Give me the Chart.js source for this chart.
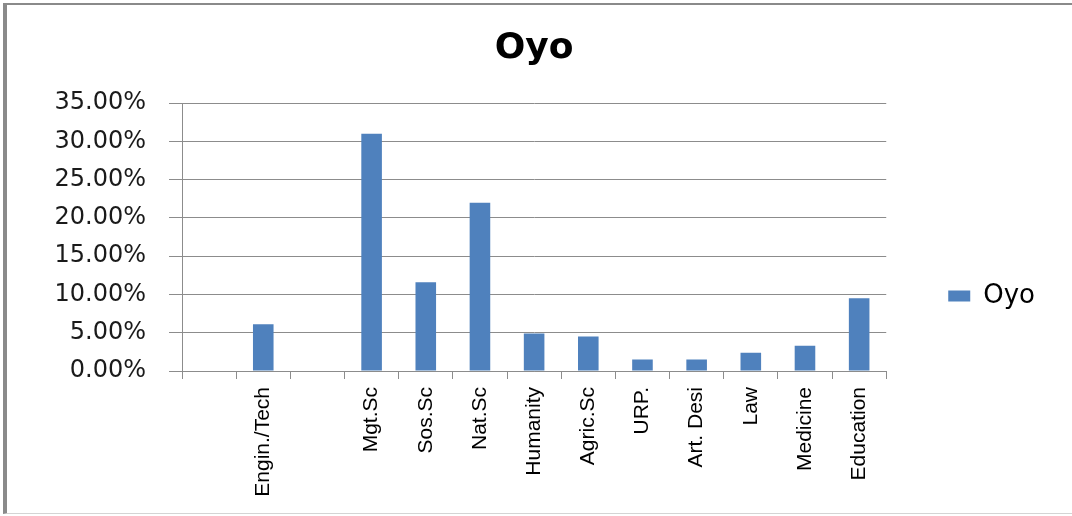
<!DOCTYPE html>
<html>
<head>
<meta charset="utf-8">
<script src="https://cdn.jsdelivr.net/npm/chart.js@4/dist/chart.umd.min.js"></script>
<style>
  html, body { margin: 0; padding: 0; background: #ffffff; }
  #wrap { position: relative; width: 1072px; height: 516px; overflow: hidden; }
  #frame {
    position: absolute; left: 3px; top: 3px; width: 1069px; height: 511px;
    border-left: 4px solid #8a8a8a; border-top: 2px solid #8a8a8a; border-bottom: 1px solid #d4d4d4;
    box-sizing: border-box; pointer-events: none;
  }
  canvas { position: absolute; left: 0; top: 0; }
</style>
</head>
<body>
<div id="wrap">
  <div id="frame"></div>
  <canvas id="c" width="1072" height="516"></canvas>
</div>
<script>
const chartTitle = "Oyo";
const seriesName = "Oyo";
const categories = ["", "Engin./Tech", "", "Mgt.Sc", "Sos.Sc", "Nat.Sc", "Humanity", "Agric.Sc", "URP.", "Art. Desi", "Law", "Medicine", "Education"];
const oyoValues = [null, 0.061, null, 0.310, 0.116, 0.220, 0.049, 0.045, 0.015, 0.015, 0.024, 0.033, 0.095];
const yTickMin = 0;
const yTickMax = 0.35;
const yTickStep = 0.05;

const gridColor = "#8c8c8c";

new Chart(document.getElementById("c"), {
  type: "bar",
  data: {
    labels: categories,
    datasets: [{
      label: seriesName,
      data: oyoValues,
      backgroundColor: "#4f81bd",
      borderWidth: 0,
      barPercentage: 0.38,
      categoryPercentage: 1.0
    }]
  },
  options: {
    responsive: false,
    animation: false,
    devicePixelRatio: 1,
    layout: { padding: { left: 0, right: 27, top: 0, bottom: 0 } },
    plugins: {
      title: {
        display: true,
        fullSize: false,
        text: chartTitle,
        color: "#000000",
        font: { family: "'DejaVu Sans', Verdana, sans-serif", size: 36, weight: "bold" },
        padding: { top: 27, bottom: 33 }
      },
      legend: {
        display: true,
        position: "right",
        align: "end",
        fullSize: false,
        labels: {
          boxWidth: 22,
          boxHeight: 11,
          padding: 62,
          color: "#000000",
          font: { family: "'DejaVu Sans', Verdana, sans-serif", size: 26 }
        }
      },
      tooltip: { enabled: false }
    },
    scales: {
      x: {
        offset: true,
        grid: { offset: true, drawOnChartArea: false, drawTicks: true, tickLength: 8, color: gridColor },
        border: { display: true, color: gridColor, width: 1 },
        ticks: {
          autoSkip: false,
          minRotation: 90,
          maxRotation: 90,
          padding: 8,
          color: "#000000",
          font: { family: "'Liberation Sans', Arial, sans-serif", size: 21 }
        },
        afterFit: (s) => { s.height = 145; }
      },
      y: {
        min: yTickMin,
        max: yTickMax,
        grid: { color: gridColor, tickLength: 13, lineWidth: 1 },
        border: { display: true, color: gridColor, width: 1 },
        ticks: {
          stepSize: yTickStep,
          padding: 23,
          color: "#1a1a1a",
          font: { family: "'DejaVu Sans', Verdana, sans-serif", size: 24 },
          callback: (v) => (v * 100).toFixed(2) + "%"
        },
        afterFit: (s) => { s.width = 182; }
      }
    }
  }
});
</script>
</body>
</html>
